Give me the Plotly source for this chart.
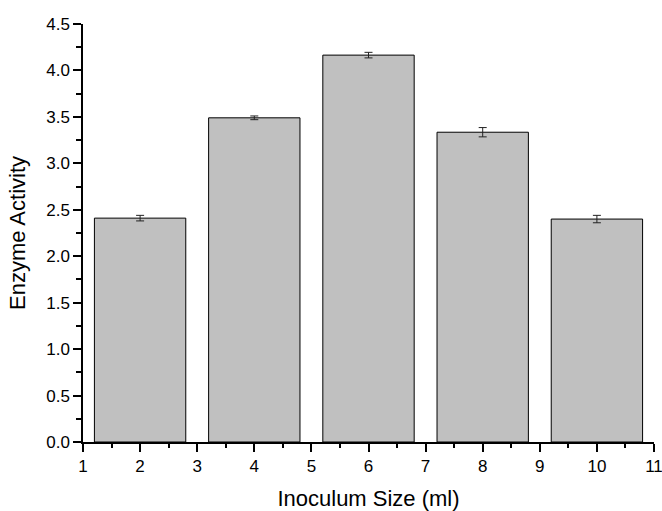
import plotly.graph_objects as go

inoculum = [2, 4, 6, 8, 10]
activity = [2.41, 3.49, 4.165, 3.335, 2.40]
errors = [0.03, 0.02, 0.03, 0.05, 0.04]

fig = go.Figure()
fig.add_trace(go.Bar(
    x=inoculum, y=activity, width=1.6,
    marker=dict(color="#c0c0c0", line=dict(color="black", width=1)),
    error_y=dict(type="data", array=errors, color="#222222", thickness=1, width=4),
))

font = "Liberation Sans, Arial, sans-serif"
fig.update_layout(
    width=662, height=511,
    margin=dict(l=83, r=8, t=24, b=69, autoexpand=False),
    plot_bgcolor="white", paper_bgcolor="white",
    font=dict(family=font, size=17, color="black"),
    showlegend=False,
    xaxis=dict(
        range=[1, 11], tickmode="linear", tick0=1, dtick=1, automargin=False,
        ticklabeloverflow="allow",
        showline=True, linecolor="black", linewidth=1.5,
        ticks="outside", ticklen=8, tickwidth=1.5, tickcolor="black",
        minor=dict(ticks="outside", ticklen=4, tickwidth=1.5, tickcolor="black", dtick=0.5),
        showgrid=False, zeroline=False,
        title=dict(text="Inoculum Size (ml)", font=dict(size=22)),
    ),
    yaxis=dict(
        range=[0, 4.5], tickmode="linear", tick0=0, dtick=0.5, tickformat=".1f", automargin=False,
        ticklabeloverflow="allow",
        showline=True, linecolor="black", linewidth=1.5,
        ticks="outside", ticklen=8, tickwidth=1.5, tickcolor="black",
        minor=dict(ticks="outside", ticklen=5, tickwidth=1.5, tickcolor="black", dtick=0.25),
        showgrid=False, zeroline=False,
        title=dict(text="Enzyme Activity", font=dict(size=22)),
    ),
)

fig.write_html("out.html", config={"displayModeBar": False},
               post_script="document.body.style.margin='0';document.body.style.padding='0';")
